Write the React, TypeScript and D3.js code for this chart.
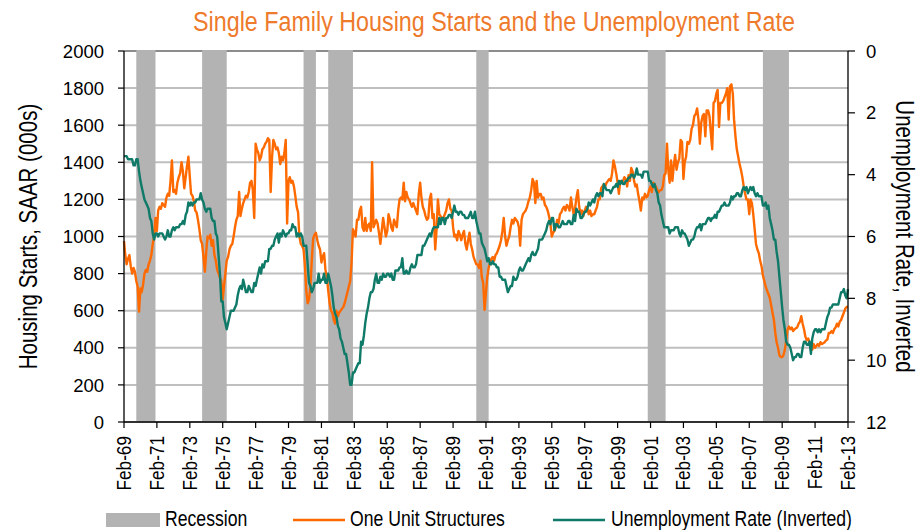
import React from 'react';
import * as d3 from 'd3';

// monthly series, Feb-1969 .. Feb-2013
const firstMonth = new Date(1969, 1, 1);

// single family housing starts, SAAR (000s)
const housingStarts = [
  975, 900, 850, 880, 900, 840, 800, 830, 810, 760, 730, // 1969 (Feb-Dec)
  595, 720, 700, 740, 800, 820, 810, 850, 870, 900, 960, 1000, // 1970
  1100, 1030, 1140, 1160, 1150, 1180, 1170, 1160, 1210, 1230, 1220, 1300, // 1971
  1410, 1240, 1250, 1230, 1290, 1320, 1340, 1400, 1350, 1260, 1320, 1380, // 1972
  1430, 1320, 1230, 1220, 1190, 1140, 1130, 1090, 1040, 980, 960, 890, // 1973
  810, 920, 1000, 990, 1010, 950, 980, 900, 870, 820, 800, 780, // 1974
  760, 660, 730, 800, 870, 890, 930, 950, 960, 1000, 1050, 1090, // 1975
  1110, 1240, 1110, 1150, 1180, 1200, 1220, 1210, 1240, 1290, 1300, 1250, // 1976
  1100, 1500, 1470, 1450, 1410, 1430, 1470, 1480, 1500, 1510, 1530, 1520, // 1977
  1240, 1430, 1520, 1500, 1470, 1480, 1450, 1390, 1430, 1410, 1450, 1520, // 1978
  1070, 1300, 1320, 1290, 1300, 1270, 1220, 1160, 1130, 1000, 960, 950, // 1979
  930, 840, 710, 640, 660, 730, 870, 990, 1010, 1020, 980, 950, // 1980
  930, 860, 890, 910, 820, 780, 710, 640, 600, 590, 550, 530, // 1981
  600, 570, 590, 600, 610, 620, 640, 670, 700, 730, 760, 860, // 1982
  1040, 1020, 1000, 1090, 1090, 1140, 1160, 1050, 1030, 1100, 1030, 1060, // 1983
  1070, 1030, 1400, 1050, 1070, 1090, 1070, 1020, 960, 1030, 1100, 1050, // 1984
  1000, 1030, 1120, 1090, 1050, 1030, 1090, 1070, 1050, 1140, 1200, 1210, // 1985
  1200, 1290, 1190, 1240, 1210, 1200, 1180, 1160, 1180, 1160, 1140, 1120, // 1986
  1230, 1290, 1210, 1160, 1140, 1110, 1090, 1100, 1200, 1230, 1100, 1120, // 1987
  930, 1040, 1200, 1120, 1110, 1090, 1100, 1120, 1140, 1180, 1200, 1150, // 1988
  1140, 1050, 1000, 1010, 980, 1030, 1010, 980, 1010, 1030, 960, 930, // 1989
  980, 1020, 960, 930, 890, 870, 850, 850, 830, 870, 780, 750, // 1990
  604, 700, 780, 830, 860, 880, 890, 870, 900, 910, 930, 950, // 1991
  980, 1030, 1100, 1000, 950, 980, 1000, 1050, 1090, 1070, 1100, 1090, // 1992
  1080, 1050, 950, 1090, 1120, 1130, 1140, 1160, 1190, 1210, 1250, 1310, // 1993
  1290, 1180, 1300, 1210, 1230, 1230, 1200, 1210, 1170, 1160, 1140, 1110, // 1994
  1070, 1000, 1020, 1030, 1050, 1090, 1070, 1120, 1130, 1150, 1160, 1140, // 1995
  1170, 1160, 1140, 1210, 1160, 1120, 1150, 1210, 1250, 1160, 1120, 1140, // 1996
  1110, 1140, 1160, 1150, 1120, 1140, 1110, 1120, 1120, 1140, 1160, 1200, // 1997
  1200, 1260, 1270, 1280, 1270, 1290, 1300, 1310, 1300, 1340, 1410, 1380, // 1998
  1340, 1290, 1230, 1300, 1290, 1300, 1320, 1310, 1270, 1330, 1300, 1370, // 1999
  1350, 1300, 1270, 1280, 1230, 1190, 1140, 1210, 1200, 1230, 1210, 1220, // 2000
  1250, 1270, 1240, 1290, 1280, 1270, 1250, 1240, 1250, 1250, 1270, 1330, // 2001
  1340, 1500, 1360, 1290, 1410, 1300, 1380, 1440, 1360, 1400, 1420, 1520, // 2002
  1510, 1310, 1400, 1430, 1510, 1500, 1520, 1580, 1600, 1650, 1660, 1690, // 2003
  1630, 1500, 1610, 1650, 1660, 1540, 1680, 1680, 1650, 1560, 1470, 1720, // 2004
  1730, 1770, 1790, 1590, 1720, 1720, 1730, 1750, 1770, 1800, 1630, 1810, // 2005
  1820, 1770, 1630, 1540, 1470, 1430, 1390, 1360, 1320, 1270, 1230, 1200, // 2006
  1200, 1120, 1200, 1180, 1120, 1040, 960, 930, 910, 870, 840, 790, // 2007
  760, 730, 710, 690, 670, 630, 590, 550, 480, 430, 400, 360, // 2008
  350, 350, 360, 390, 440, 500, 515, 500, 510, 490, 500, 505, // 2009
  510, 530, 540, 570, 530, 500, 460, 440, 450, 430, 425, 390, // 2010
  420, 400, 410, 420, 410, 430, 420, 425, 430, 440, 445, 480, // 2011
  480, 490, 480, 500, 510, 530, 515, 540, 550, 570, 590, 610, // 2012
  620, 620, // 2013 (Jan-Feb)
];

// unemployment rate, %
const unemploymentRate = [
  3.4, 3.4, 3.4, 3.5, 3.5, 3.5, 3.5, 3.7, 3.7, 3.5, 3.5, // 1969
  3.9, 4.2, 4.4, 4.6, 4.8, 4.9, 5.0, 5.1, 5.4, 5.5, 5.9, 6.1,
  5.9, 5.9, 6.0, 5.9, 5.9, 5.9, 6.0, 6.1, 6.0, 5.8, 6.0, 6.0,
  5.8, 5.7, 5.8, 5.7, 5.7, 5.7, 5.6, 5.6, 5.5, 5.6, 5.3, 5.2,
  4.9, 5.0, 4.9, 5.0, 4.9, 4.9, 4.8, 4.8, 4.8, 4.6, 4.8, 4.9,
  5.1, 5.2, 5.1, 5.1, 5.1, 5.4, 5.5, 5.5, 5.9, 6.0, 6.6, 7.2,
  8.1, 8.1, 8.6, 8.8, 9.0, 8.8, 8.6, 8.4, 8.4, 8.4, 8.3, 8.2, // 1975
  7.9, 7.7, 7.6, 7.7, 7.4, 7.6, 7.8, 7.8, 7.6, 7.7, 7.8, 7.8,
  7.5, 7.6, 7.4, 7.2, 7.0, 7.2, 6.9, 7.0, 6.8, 6.8, 6.8, 6.4,
  6.4, 6.3, 6.3, 6.1, 6.0, 5.9, 6.2, 5.9, 6.0, 5.8, 5.9, 6.0,
  5.9, 5.9, 5.8, 5.8, 5.6, 5.7, 5.7, 6.0, 5.9, 6.0, 5.9, 6.0,
  6.3, 6.3, 6.3, 6.9, 7.5, 7.6, 7.8, 7.7, 7.5, 7.5, 7.5, 7.2, // 1980
  7.5, 7.4, 7.4, 7.2, 7.5, 7.5, 7.2, 7.4, 7.6, 7.9, 8.3, 8.5,
  8.6, 8.9, 9.0, 9.3, 9.4, 9.6, 9.8, 9.8, 10.1, 10.4, 10.8, 10.8,
  10.4, 10.4, 10.3, 10.2, 10.1, 10.1, 9.4, 9.5, 9.2, 8.8, 8.5, 8.3,
  8.0, 7.8, 7.8, 7.7, 7.4, 7.2, 7.5, 7.5, 7.3, 7.4, 7.2, 7.3,
  7.3, 7.2, 7.2, 7.3, 7.2, 7.4, 7.4, 7.1, 7.1, 7.1, 7.0, 7.0, // 1985
  6.7, 7.2, 7.2, 7.1, 7.2, 7.2, 7.0, 6.9, 7.0, 7.0, 6.9, 6.6,
  6.6, 6.6, 6.6, 6.3, 6.3, 6.2, 6.1, 6.0, 5.9, 6.0, 5.8, 5.7,
  5.7, 5.7, 5.7, 5.4, 5.6, 5.4, 5.4, 5.6, 5.4, 5.4, 5.3, 5.3,
  5.4, 5.2, 5.0, 5.2, 5.2, 5.3, 5.2, 5.2, 5.3, 5.3, 5.4, 5.4,
  5.4, 5.3, 5.2, 5.4, 5.4, 5.2, 5.5, 5.7, 5.9, 5.9, 6.2, 6.3, // 1990
  6.4, 6.6, 6.8, 6.7, 6.9, 6.9, 6.8, 6.9, 6.9, 7.0, 7.0, 7.3,
  7.3, 7.4, 7.4, 7.4, 7.6, 7.8, 7.7, 7.6, 7.6, 7.3, 7.4, 7.4,
  7.3, 7.1, 7.0, 7.1, 7.1, 7.0, 6.9, 6.8, 6.7, 6.8, 6.6, 6.5,
  6.6, 6.6, 6.5, 6.4, 6.1, 6.1, 6.1, 6.0, 5.9, 5.8, 5.6, 5.5,
  5.6, 5.4, 5.4, 5.8, 5.6, 5.6, 5.7, 5.7, 5.6, 5.5, 5.6, 5.6, // 1995
  5.6, 5.5, 5.5, 5.6, 5.6, 5.3, 5.5, 5.1, 5.2, 5.2, 5.4, 5.4,
  5.3, 5.2, 5.2, 5.1, 4.9, 5.0, 4.9, 4.8, 4.9, 4.7, 4.6, 4.7,
  4.6, 4.6, 4.7, 4.3, 4.4, 4.5, 4.5, 4.5, 4.6, 4.5, 4.4, 4.4,
  4.3, 4.4, 4.2, 4.3, 4.2, 4.3, 4.3, 4.2, 4.2, 4.1, 4.1, 4.0,
  4.0, 4.1, 4.0, 3.8, 4.0, 4.0, 4.0, 4.1, 3.9, 3.9, 3.9, 3.9, // 2000
  4.2, 4.2, 4.3, 4.4, 4.3, 4.5, 4.6, 4.9, 5.0, 5.3, 5.5, 5.7,
  5.7, 5.7, 5.7, 5.9, 5.8, 5.8, 5.8, 5.7, 5.7, 5.7, 5.9, 6.0,
  5.8, 5.9, 5.9, 6.0, 6.1, 6.3, 6.2, 6.1, 6.1, 6.0, 5.8, 5.7,
  5.7, 5.6, 5.8, 5.6, 5.6, 5.6, 5.5, 5.4, 5.4, 5.5, 5.4, 5.4,
  5.3, 5.4, 5.2, 5.2, 5.1, 5.0, 5.0, 4.9, 5.0, 5.0, 5.0, 4.9, // 2005
  4.7, 4.8, 4.7, 4.7, 4.6, 4.6, 4.7, 4.7, 4.5, 4.4, 4.5, 4.4,
  4.6, 4.5, 4.4, 4.5, 4.4, 4.6, 4.7, 4.6, 4.7, 4.7, 4.7, 5.0,
  5.0, 4.9, 5.1, 5.0, 5.4, 5.6, 5.8, 6.1, 6.1, 6.5, 6.8, 7.3,
  7.8, 8.3, 8.7, 9.0, 9.4, 9.5, 9.5, 9.6, 9.8, 10.0, 9.9, 9.9,
  9.8, 9.8, 9.9, 9.9, 9.6, 9.4, 9.4, 9.5, 9.5, 9.4, 9.8, 9.3, // 2010
  9.1, 9.0, 9.0, 9.1, 9.0, 9.1, 9.0, 9.0, 9.0, 8.8, 8.6, 8.5,
  8.3, 8.3, 8.2, 8.2, 8.2, 8.2, 8.2, 8.0, 7.8, 7.8, 7.7, 7.9,
  8.0, 7.7, // 2013
];

// recession shading, first and last month (inclusive)
const recessions = [
  ['1969-11', '1970-12'],
  ['1973-11', '1975-04'],
  ['1980-01', '1980-09'],
  ['1981-07', '1982-12'],
  ['1990-07', '1991-03'],
  ['2000-12', '2001-12'],
  ['2007-12', '2009-06'],
];

const leftTicks = [0, 200, 400, 600, 800, 1000, 1200, 1400, 1600, 1800, 2000];
const rightTicks = [0, 2, 4, 6, 8, 10, 12];
const xTickLabels = [
  'Feb-69', 'Feb-71', 'Feb-73', 'Feb-75', 'Feb-77', 'Feb-79', 'Feb-81', 'Feb-83',
  'Feb-85', 'Feb-87', 'Feb-89', 'Feb-91', 'Feb-93', 'Feb-95', 'Feb-97', 'Feb-99',
  'Feb-01', 'Feb-03', 'Feb-05', 'Feb-07', 'Feb-09', 'Feb-11', 'Feb-13',
];

const FONT = "'Liberation Sans', Arial, sans-serif";
const ORANGE = '#ff6a00';
const TEAL = '#0f7a68';
const BAND = '#b3b3b3';

const parseMonth = d3.timeParse('%Y-%m');

// no narrow face installed: squeeze Liberation Sans horizontally instead
const Narrow = ({ x, y, rotate = 0, size, anchor = 'start', fill = '#000', children }: any) => (
  <text transform={`translate(${x},${y}) rotate(${rotate}) scale(0.82,1)`} textAnchor={anchor}
    fontFamily={FONT} fontSize={size} fill={fill}>{children}</text>
);

export default function App() {
  const width = 920;
  const height = 530;
  const margin = { top: 51, right: 72, bottom: 108, left: 124 };
  const x0 = margin.left;
  const x1 = width - margin.right;
  const yTop = margin.top;
  const yBot = height - margin.bottom;

  const months = housingStarts.map((_, i) => d3.timeMonth.offset(firstMonth, i));
  const x = d3.scaleTime().domain([firstMonth, months[months.length - 1]]).range([x0, x1]);
  const yL = d3.scaleLinear().domain([0, 2000]).range([yBot, yTop]);
  const yR = d3.scaleLinear().domain([0, 12]).range([yTop, yBot]);

  const starts = d3.line<number>().x((d, i) => x(months[i])).y(d => yL(d));
  const unemp = d3.line<number>().x((d, i) => x(months[i])).y(d => yR(d));

  const xTicks = xTickLabels.map((label, i) => ({ label, date: d3.timeMonth.offset(firstMonth, i * 24) }));

  return (
    <svg width={width} height={height} style={{ position: 'absolute', left: 0, top: 0, background: '#fff' }}>
      <Narrow x={494} y={31} size={28.4} anchor="middle" fill="#ee7a2c">
        Single Family Housing Starts and the Unemployment Rate
      </Narrow>

      {/* gridlines */}
      {leftTicks.map(t => (
        <line key={'g' + t} x1={x0} x2={x1} y1={yL(t)} y2={yL(t)}
          stroke={t === 2000 ? '#8c8c8c' : '#bfbfbf'} strokeWidth={2} />
      ))}

      {/* recessions */}
      {recessions.map(([a, b]) => {
        const s = x(parseMonth(a) as Date);
        const e = x(d3.timeMonth.offset(parseMonth(b) as Date, 1));
        return <rect key={a} x={s} y={yTop - 1} width={e - s} height={yBot - yTop + 1} fill={BAND} />;
      })}

      <path d={starts(housingStarts) || ''} fill="none" stroke={ORANGE} strokeWidth={2.4} strokeLinejoin="round" />
      <path d={unemp(unemploymentRate) || ''} fill="none" stroke={TEAL} strokeWidth={2.4} strokeLinejoin="round" />

      {/* axes */}
      <line x1={x0} x2={x0} y1={yTop} y2={yBot} stroke="#000" strokeWidth={1.3} />
      <line x1={x1} x2={x1} y1={yTop} y2={yBot} stroke="#000" strokeWidth={1.3} />
      <line x1={x0} x2={x1} y1={yBot} y2={yBot} stroke="#000" strokeWidth={1.3} />

      {leftTicks.map(t => (
        <g key={'l' + t}>
          <line x1={x0 - 6} x2={x0} y1={yL(t)} y2={yL(t)} stroke="#000" strokeWidth={1.2} />
          <text x={104} y={yL(t)} dy="0.36em" textAnchor="end" fontFamily={FONT} fontSize={18.5} fill="#000">{t}</text>
        </g>
      ))}
      {rightTicks.map(t => (
        <g key={'r' + t}>
          <line x1={x1} x2={x1 + 7} y1={yR(t)} y2={yR(t)} stroke="#000" strokeWidth={1.2} />
          <text x={866} y={yR(t)} dy="0.36em" textAnchor="start" fontFamily={FONT} fontSize={18.5} fill="#000">{t}</text>
        </g>
      ))}
      {xTicks.map(t => (
        <g key={t.label}>
          <line x1={x(t.date)} x2={x(t.date)} y1={yBot} y2={yBot + 6} stroke="#000" strokeWidth={1.2} />
          <Narrow x={x(t.date) + 7} y={yBot + 14} rotate={-90} size={21} anchor="end">{t.label}</Narrow>
        </g>
      ))}

      {/* axis titles */}
      <Narrow x={37} y={(yTop + yBot) / 2} rotate={-90} size={25} anchor="middle">Housing Starts, SAAR (000s)</Narrow>
      <Narrow x={896} y={(yTop + yBot) / 2} rotate={90} size={25} anchor="middle">Unemployment Rate, Inverted</Narrow>

      {/* legend */}
      <rect x={106} y={513} width={54} height={14} fill={BAND} />
      <Narrow x={165} y={525.5} size={21.5}>Recession</Narrow>
      <line x1={293} x2={345} y1={520} y2={520} stroke={ORANGE} strokeWidth={2.4} />
      <Narrow x={350} y={525.5} size={21.5}>One Unit Structures</Narrow>
      <line x1={553} x2={605} y1={520} y2={520} stroke={TEAL} strokeWidth={2.4} />
      <Narrow x={611} y={525.5} size={21.5}>Unemployment Rate (Inverted)</Narrow>
    </svg>
  );
}
